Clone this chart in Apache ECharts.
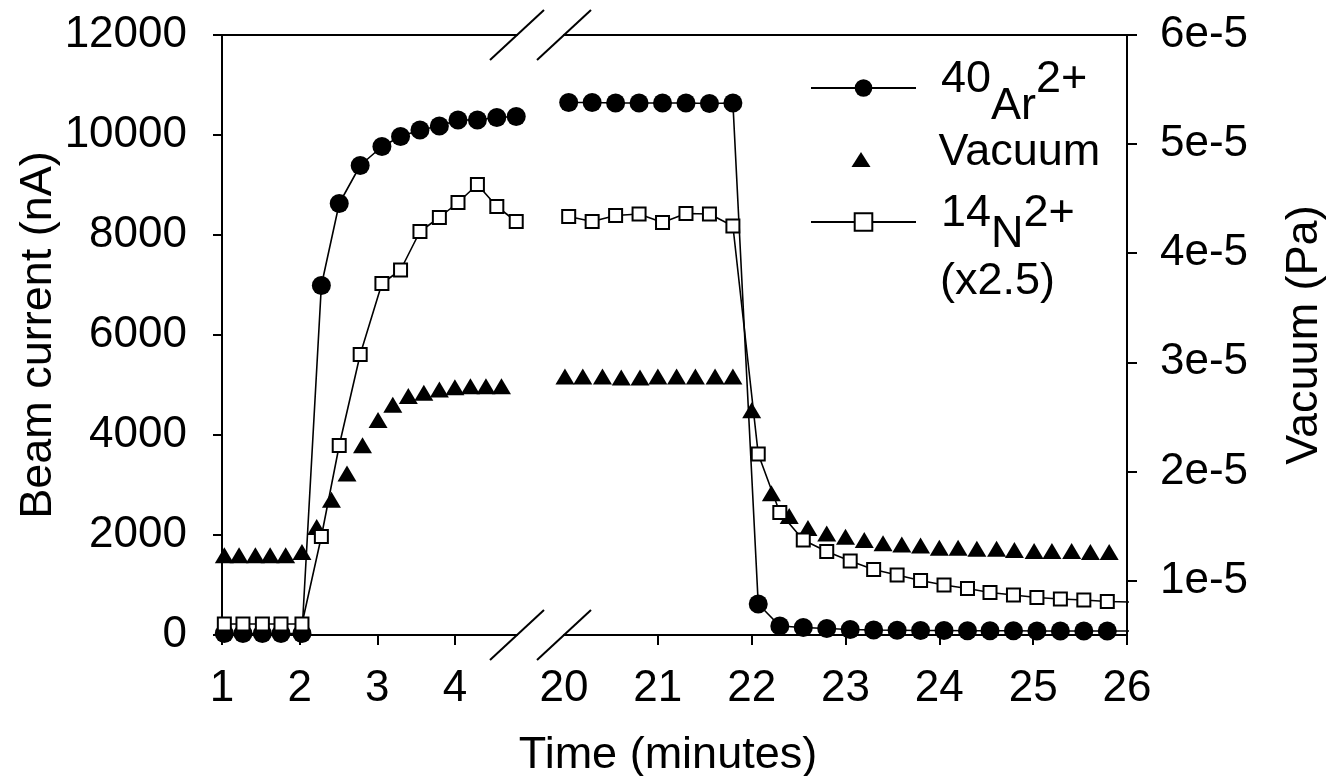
<!DOCTYPE html>
<html><head><meta charset="utf-8">
<script src="https://cdn.jsdelivr.net/npm/echarts@6/dist/echarts.min.js"></script>
<style>html,body{margin:0;padding:0;background:#fff}#c{width:1336px;height:776px}</style>
</head><body><div id="c"></div>
<script>
// ---- data ----
// Left segment of the broken time axis (minutes)
const beamTimeA = [1.03,1.27,1.52,1.76,2.03,2.28,2.51,2.78,3.06,3.30,3.55,3.80,4.04,4.29,4.54,4.79];
const arA = [30,30,30,30,30,6990,8630,9390,9770,9970,10100,10180,10300,10300,10350,10370];
const nA  = [220,220,220,220,220,1970,3790,5610,7030,7300,8070,8350,8650,9010,8570,8270];
const vacTimeA = [1.03,1.22,1.43,1.62,1.82,2.03,2.22,2.41,2.61,2.81,3.01,3.20,3.40,3.60,3.80,4.00,4.20,4.40,4.60];
const vacA = [1.23,1.23,1.23,1.23,1.23,1.26,1.49,1.74,1.98,2.24,2.47,2.61,2.69,2.72,2.75,2.77,2.78,2.78,2.78]; // x1e-5 Pa
// Right segment
const beamTimeB = [20.05,20.30,20.55,20.80,21.05,21.30,21.55,21.80,22.07,22.30,22.55,22.80,23.05,23.30,23.55,23.80,24.05,24.30,24.54,24.79,25.04,25.29,25.54,25.79,26.04];
const arB = [10650,10650,10640,10640,10640,10640,10630,10640,620,180,150,130,110,100,95,90,90,85,85,85,80,80,80,80,80];
const nB  = [8370,8270,8390,8420,8250,8430,8420,8180,3620,2450,1900,1670,1480,1310,1200,1090,1000,930,850,800,750,720,700,670,660];
const vacTimeB = [20.01,20.20,20.41,20.61,20.81,21.00,21.20,21.40,21.61,21.80,22.00,22.21,22.40,22.60,22.80,23.00,23.20,23.40,23.60,23.80,24.00,24.20,24.40,24.61,24.80,25.01,25.20,25.41,25.61,25.81];
const vacB = [2.87,2.87,2.87,2.86,2.86,2.87,2.87,2.87,2.87,2.87,2.56,1.80,1.59,1.48,1.43,1.40,1.37,1.34,1.33,1.32,1.30,1.30,1.29,1.29,1.28,1.27,1.27,1.27,1.26,1.26];
// tick labels
const xTicksA = [1,2,3,4];
const xTicksB = [20,21,22,23,24,25,26];
const vacTicks = [1,2,3,4,5,6];     // x1e-5 Pa
const beamRange = [0, 12000];
const vacRange = [0.5, 6];
const seriesNames = ['40Ar2+', 'Vacuum', '14N2+'];

const zip = (a, b) => a.map((t, i) => [t, b[i]]);
const FONT = '"Liberation Sans", Arial, Helvetica, sans-serif';
const BLACK = '#000';

const chart = echarts.init(document.getElementById('c'), null, {renderer: 'canvas'});

function xAxis(grid, min, max, ticks, labels, pos) {
  const top = pos === 'top';
  return {
    type: 'value', gridIndex: grid, min: min, max: max, position: pos,
    axisLine: {show: true, onZero: false, lineStyle: {color: BLACK, width: 2}},
    axisTick: {show: !top, length: 10, lineStyle: {color: BLACK, width: 2}, customValues: ticks},
    axisLabel: {show: !top, fontSize: 44, fontFamily: FONT, color: BLACK, margin: 32, customValues: labels},
    splitLine: {show: false}
  };
}

const richText = {
  s: {fontSize: 45, fontFamily: FONT, color: BLACK, lineHeight: 46, verticalAlign: 'top'},
  b: {fontSize: 45, fontFamily: FONT, color: BLACK, lineHeight: 46, verticalAlign: 'top', padding: [27, 0, 0, 0]},
  c: {fontSize: 45, fontFamily: FONT, color: BLACK, lineHeight: 46, verticalAlign: 'top', padding: [21, 0, 0, 0]},
  v: {fontSize: 45, fontFamily: FONT, color: BLACK, lineHeight: 46, padding: [0, 0, 14, 0]}
};
function legendBox(name, left, top, textPad, icon) {
  const item = {name: name};
  if (icon) item.icon = icon;
  return {
    orient: 'vertical', left: left, top: top, padding: 0,
    itemWidth: 105, itemHeight: 22, selectedMode: false,
    textStyle: {fontSize: 45, fontFamily: FONT, color: BLACK, padding: textPad, rich: richText},
    formatter: function (n) {
      if (n === seriesNames[0]) return '{s|40}{b|Ar}{s|2+}';
      if (n === seriesNames[2]) return '{s|14}{c|N}{s|2+}';
      return '{v|' + n + '}';
    },
    data: [item]
  };
}

const option = {
  animation: false,
  backgroundColor: '#fff',
  title: {
    text: 'Time (minutes)', left: 'center', top: 733, padding: [0, 0, 0, 18],
    textStyle: {fontSize: 45, fontWeight: 'normal', fontFamily: FONT, color: BLACK}
  },
  grid: [
    {left: 222, top: 35, width: 295, height: 600},
    {left: 564, top: 35, width: 563, height: 600}
  ],
  xAxis: [
    xAxis(0, 1, 4.8, xTicksA, xTicksA, 'bottom'),
    xAxis(1, 20, 26, xTicksB.slice(1), xTicksB, 'bottom'),
    xAxis(0, 1, 4.8, [], [], 'top'),
    xAxis(1, 20, 26, [], [], 'top')
  ],
  yAxis: [
    {
      type: 'value', gridIndex: 0, position: 'left', min: beamRange[0], max: beamRange[1], interval: 2000,
      name: 'Beam current (nA)', nameLocation: 'middle', nameGap: 149, nameRotate: 90,
      nameTextStyle: {fontSize: 45, fontFamily: FONT, color: BLACK},
      axisLine: {show: true, onZero: false, lineStyle: {color: BLACK, width: 2}},
      axisTick: {show: true, length: 9, lineStyle: {color: BLACK, width: 2}},
      axisLabel: {fontSize: 44, fontFamily: FONT, color: BLACK, margin: 35, formatter: v => String(v)},
      splitLine: {show: false}
    },
    {type: 'value', gridIndex: 0, min: vacRange[0], max: vacRange[1], show: false, splitLine: {show: false}},
    {type: 'value', gridIndex: 1, min: beamRange[0], max: beamRange[1], show: false, splitLine: {show: false}},
    {
      type: 'value', gridIndex: 1, position: 'right', min: vacRange[0], max: vacRange[1],
      name: 'Vacuum (Pa)', nameLocation: 'middle', nameGap: 155, nameRotate: 90,
      nameTextStyle: {fontSize: 45, fontFamily: FONT, color: BLACK},
      axisLine: {show: true, onZero: false, lineStyle: {color: BLACK, width: 2}},
      axisTick: {show: true, length: 10, lineStyle: {color: BLACK, width: 2}, customValues: vacTicks},
      axisLabel: {fontSize: 44, fontFamily: FONT, color: BLACK, margin: 33, customValues: vacTicks,
                  formatter: v => v + 'e-5'},
      splitLine: {show: false}
    }
  ],
  legend: [
    legendBox(seriesNames[0], 810, 57, [0, 0, 16, 20]),
    legendBox(seriesNames[1], 850, 130, [0, 0, 0, 20], 'path://M0,0M22,22M1.5,18.5L11,3.5L20.5,18.5Z'),
    legendBox(seriesNames[2], 810, 191, [0, 0, 16, 20])
  ],
  series: []
};

function beamLineAr(xi, yi, data) {
  return {name: seriesNames[0], type: 'line', xAxisIndex: xi, yAxisIndex: yi, data: data,
    symbol: 'circle', symbolSize: 19, showAllSymbol: true, z: 2,
    itemStyle: {color: BLACK, opacity: 1}, lineStyle: {color: BLACK, width: 1.6}};
}
function beamLineN(xi, yi, data) {
  return {name: seriesNames[2], type: 'line', xAxisIndex: xi, yAxisIndex: yi, data: data,
    symbol: 'rect', symbolSize: 13, showAllSymbol: true, z: 4,
    itemStyle: {color: '#fff', borderColor: BLACK, borderWidth: 2, opacity: 1}, lineStyle: {color: BLACK, width: 1.6}};
}
function vacScatter(xi, yi, data) {
  return {name: seriesNames[1], type: 'scatter', xAxisIndex: xi, yAxisIndex: yi, data: data,
    symbol: 'triangle', symbolSize: [19, 16], z: 3, itemStyle: {color: BLACK, opacity: 1}};
}
option.series.push(
  beamLineAr(0, 0, zip(beamTimeA, arA)),
  vacScatter(0, 1, zip(vacTimeA, vacA)),
  beamLineN(0, 0, zip(beamTimeA, nA)),
  beamLineAr(1, 2, zip(beamTimeB, arB)),
  vacScatter(1, 3, zip(vacTimeB, vacB)),
  beamLineN(1, 2, zip(beamTimeB, nB))
);

chart.setOption(option);

// axis-break marks and legend note
const pA = chart.convertToPixel({gridIndex: 0}, [4.8, 12000]);
const pAb = chart.convertToPixel({gridIndex: 0}, [4.8, 0]);
const pB = chart.convertToPixel({gridIndex: 1}, [20, 12000]);
const pBb = chart.convertToPixel({gridIndex: 1}, [20, 0]);
function slash(p) {
  return {type: 'line', silent: true, z: 10,
    shape: {x1: p[0] - 27, y1: p[1] + 25, x2: p[0] + 27, y2: p[1] - 25},
    style: {stroke: BLACK, lineWidth: 2}};
}
chart.setOption({
  graphic: [
    slash(pA), slash(pAb), slash(pB), slash(pBb),
    {type: 'text', left: 940, top: 259, silent: true,
     style: {text: '(x2.5)', fontSize: 45, fontFamily: FONT, fill: BLACK}}
  ]
});
</script>
</body></html>
